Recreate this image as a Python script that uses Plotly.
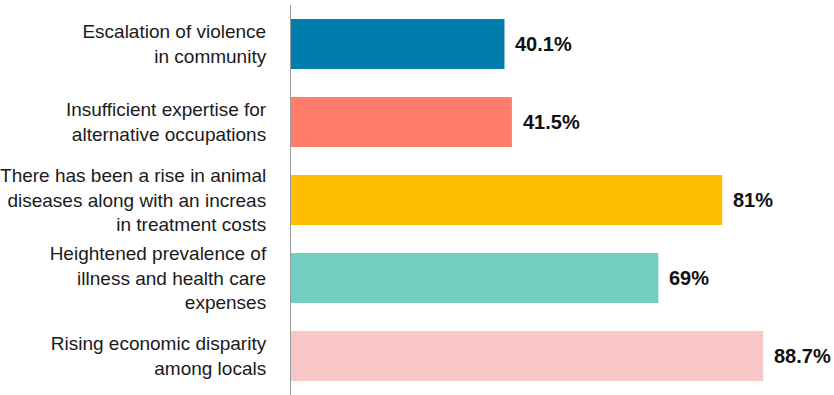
import plotly.graph_objects as go

# Survey responses: perceived impacts, share of respondents (%)
categories = [
    "Escalation of violence<br>in community",
    "Insufficient expertise for<br>alternative occupations",
    "There has been a rise in animal<br>diseases along with an increas<br>in treatment costs",
    "Heightened prevalence of<br>illness and health care<br>expenses",
    "Rising economic disparity<br>among locals",
]
values = [40.1, 41.5, 81, 69, 88.7]
value_labels = ["40.1%", "41.5%", "81%", "69%", "88.7%"]
colors = ["#007DAA", "#FF7D6A", "#FFBE00", "#72CEC1", "#F8C6C6"]

fig = go.Figure(
    go.Bar(
        x=values,
        y=categories,
        orientation="h",
        marker=dict(color=colors, line=dict(width=0)),
        hoverinfo="skip",
    )
)

# Value labels just past the end of each bar
for cat, val, lab in zip(categories, values, value_labels):
    fig.add_annotation(
        x=val, y=cat, text=lab, showarrow=False,
        xanchor="left", yanchor="middle", xshift=9,
        font=dict(family="Liberation Sans, Arial, sans-serif",
                  size=20, color="#111111", weight="bold"),
    )

fig.update_layout(
    width=834, height=395,
    margin=dict(l=291, r=0, t=5, b=0),
    paper_bgcolor="white", plot_bgcolor="white",
    bargap=0.36,
    showlegend=False,
    font=dict(family="Liberation Sans, Arial, sans-serif", size=19, color="#1a1a1a"),
)
fig.update_xaxes(range=[0, 102], visible=False, fixedrange=True)
fig.update_yaxes(
    autorange="reversed",
    showline=True, linecolor="#9a9a9a", linewidth=1,
    showgrid=False, ticks="", ticklabelstandoff=20,
    tickfont=dict(size=19, color="#1a1a1a"),
    fixedrange=True,
)

fig.write_html("out.html")
